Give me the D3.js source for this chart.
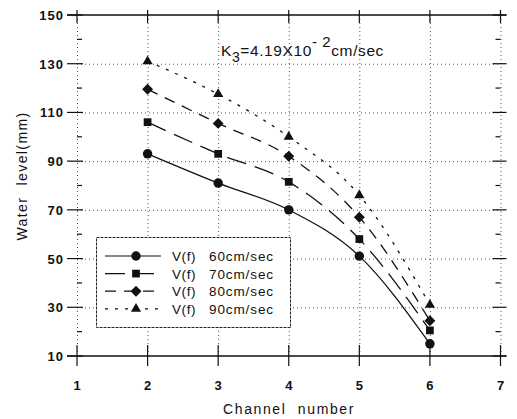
<!DOCTYPE html>
<html>
<head>
<meta charset="utf-8">
<script src="https://cdn.jsdelivr.net/npm/d3@7"></script>
<style>
  body { margin: 0; background: #fff; }
  svg { font-family: "Liberation Sans", Arial, sans-serif; }
</style>
</head>
<body>
<svg id="chart" width="517" height="419"></svg>
<script>
// Data
const channels = [2, 3, 4, 5, 6];
const v60 = [93, 81, 70, 51, 15];
const v70 = [106, 93, 81.5, 58, 20.5];
const v80 = [119.5, 105.5, 92, 67, 24.5];
const v90 = [131, 117.5, 100, 76, 31];
const seriesLabels = ["60cm/sec", "70cm/sec", "80cm/sec", "90cm/sec"];
const xTicks = [1, 2, 3, 4, 5, 6, 7];
const yTicks = [10, 30, 50, 70, 90, 110, 130, 150];
const yMinor = [20, 40, 60, 80, 100, 120, 140];

const svg = d3.select("#chart");

const x = d3.scaleLinear().domain([1, 7]).range([77, 500.5]);
const y = d3.scaleLinear().domain([10, 150]).range([356, 15]);

// diamond = square turned 45 degrees
const series = [
    { values: v60, label: seriesLabels[0], dash: null, marker: d3.symbolCircle, size: 70, rot: 0 },
    { values: v70, label: seriesLabels[1], dash: "20,9", marker: d3.symbolSquare, size: 60, rot: 0 },
    { values: v80, label: seriesLabels[2], dash: "11,8", marker: d3.symbolSquare, size: 60, rot: 45 },
    { values: v90, label: seriesLabels[3], dash: "3,7", marker: d3.symbolTriangle, size: 45, rot: 0 }
];

// grid (dotted)
const grid = svg.append("g").attr("stroke", "#555").attr("stroke-width", 1)
    .attr("stroke-dasharray", "1,3");
grid.selectAll(".gx").data(xTicks).enter().append("line")
    .attr("x1", d => x(d) + 0.5).attr("x2", d => x(d) + 0.5)
    .attr("y1", y(150)).attr("y2", y(10));
grid.selectAll(".gy").data(yTicks.slice(1, -1)).enter().append("line")
    .attr("x1", x(1)).attr("x2", x(7))
    .attr("y1", d => y(d) + 0.5).attr("y2", d => y(d) + 0.5);

// top and bottom frame lines
svg.append("line").attr("x1", x(1) - 10).attr("x2", x(7) + 6)
    .attr("y1", y(150)).attr("y2", y(150)).attr("stroke", "#111").attr("stroke-width", 1.3);
svg.append("line").attr("x1", x(1) - 10).attr("x2", x(7) + 6)
    .attr("y1", y(10)).attr("y2", y(10)).attr("stroke", "#111").attr("stroke-width", 1.3);

// major ticks crossing the frame
const ticks = svg.append("g").attr("stroke", "#111").attr("stroke-width", 1.2);
xTicks.forEach(t => {
    ticks.append("line").attr("x1", x(t)).attr("x2", x(t))
        .attr("y1", y(10) - 11).attr("y2", y(10) + 10);
    ticks.append("line").attr("x1", x(t)).attr("x2", x(t))
        .attr("y1", y(150) - 5).attr("y2", y(150) + 8);
});
yTicks.forEach(t => {
    ticks.append("line").attr("x1", x(1) - 10).attr("x2", x(1) + 6)
        .attr("y1", y(t)).attr("y2", y(t));
    ticks.append("line").attr("x1", x(7) - 8).attr("x2", x(7) + 6)
        .attr("y1", y(t)).attr("y2", y(t));
});
yMinor.forEach(t => {
    ticks.append("line").attr("x1", x(1)).attr("x2", x(1) + 5)
        .attr("y1", y(t)).attr("y2", y(t));
    ticks.append("line").attr("x1", x(7) - 5).attr("x2", x(7))
        .attr("y1", y(t)).attr("y2", y(t));
});

// tick labels
svg.append("g").selectAll("text").data(xTicks).enter().append("text")
    .attr("x", d => x(d)).attr("y", 390)
    .attr("text-anchor", "middle").attr("font-size", 13).attr("font-weight", "bold")
    .attr("fill", "#111").text(d => d);
svg.append("g").selectAll("text").data(yTicks).enter().append("text")
    .attr("x", 64).attr("y", d => y(d) + 5)
    .attr("text-anchor", "end").attr("font-size", 13).attr("font-weight", "bold")
    .attr("letter-spacing", 1).attr("fill", "#111").text(d => d);

// axis titles
svg.append("text").attr("x", 289).attr("y", 414).attr("text-anchor", "middle")
    .attr("font-size", 14).attr("letter-spacing", 1.6).attr("word-spacing", 6)
    .attr("fill", "#111").text("Channel number");
svg.append("text").attr("transform", "translate(27,176) rotate(-90)")
    .attr("text-anchor", "middle").attr("font-size", 14).attr("letter-spacing", 1.4)
    .attr("word-spacing", 6).attr("fill", "#111").text("Water level(mm)");

// annotation
const ann = svg.append("text").attr("x", 221).attr("y", 56).attr("font-size", 15.5)
    .attr("letter-spacing", 0.6).attr("fill", "#111");
ann.append("tspan").text("K");
ann.append("tspan").attr("dy", 6).attr("font-size", 14).text("3");
ann.append("tspan").attr("dy", -6).text("=4.19X10");
ann.append("tspan").attr("dy", -9).attr("font-size", 15).text("- 2");
ann.append("tspan").attr("dy", 9).text("cm/sec");

// lines
const line = d3.line()
    .x((d, i) => x(channels[i]))
    .y(d => y(d))
    .curve(d3.curveMonotoneX);

series.forEach(s => {
    svg.append("path").datum(s.values)
        .attr("d", line)
        .attr("fill", "none").attr("stroke", "#111").attr("stroke-width", 1.3)
        .attr("stroke-dasharray", s.dash);
    svg.append("g").selectAll("path").data(s.values).enter().append("path")
        .attr("transform", (d, i) => `translate(${x(channels[i])},${y(d)}) rotate(${s.rot})`)
        .attr("d", d3.symbol().type(s.marker).size(s.size))
        .attr("fill", "#111");
});

// legend
const lg = svg.append("g");
lg.append("rect").attr("x", 96.5).attr("y", 237.5).attr("width", 194).attr("height", 90)
    .attr("fill", "#fff").attr("stroke", "#222").attr("stroke-width", 1)
    .attr("stroke-dasharray", "3,1");
const legendRows = lg.selectAll("g").data(series).enter().append("g")
    .attr("transform", (d, i) => `translate(0,${256 + i * 17.6})`);
legendRows.append("line").attr("x1", 105).attr("x2", 161).attr("y1", 0).attr("y2", 0)
    .attr("stroke", "#111").attr("stroke-width", 1.2)
    .attr("stroke-dasharray", d => d.dash ? d.dash : null);
legendRows.append("path").attr("transform", d => `translate(136,0) rotate(${d.rot})`)
    .attr("d", d => d3.symbol().type(d.marker).size(d.size)())
    .attr("fill", "#111");
legendRows.append("text").attr("x", 172).attr("y", 5).attr("font-size", 13.5)
    .attr("letter-spacing", 0.6).attr("fill", "#111").text("V(f)");
legendRows.append("text").attr("x", 209).attr("y", 5).attr("font-size", 13.5)
    .attr("letter-spacing", 0.9).attr("fill", "#111").text(d => d.label);
</script>
</body>
</html>
